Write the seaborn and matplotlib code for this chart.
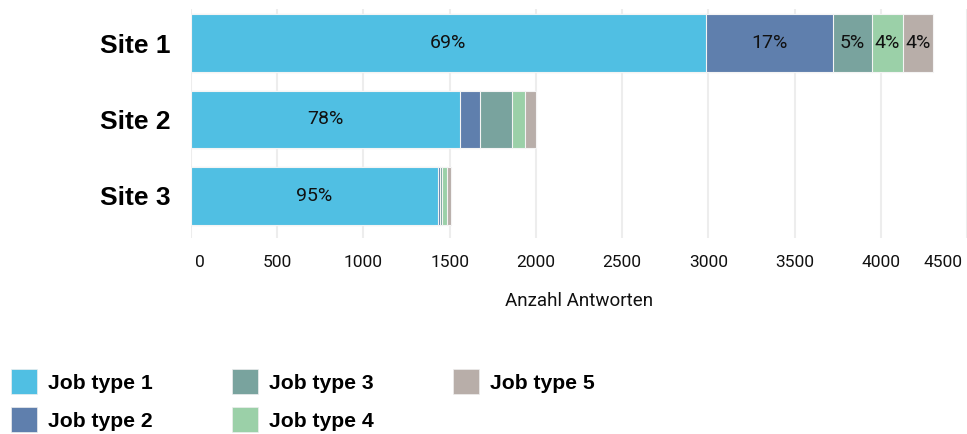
import matplotlib
matplotlib.use("Agg")
import matplotlib.pyplot as plt
import matplotlib.transforms as mtransforms
from matplotlib.patches import Patch
import numpy as np
import pandas as pd
import seaborn as sns

sites = ["Site 1", "Site 2", "Site 3"]
job_types = ["Job type 1", "Job type 2", "Job type 3", "Job type 4", "Job type 5"]
job1 = [2984, 1560, 1433]
job2 = [737, 115, 10]
job3 = [226, 185, 10]
job4 = [182, 75, 30]
job5 = [176, 65, 22]
colors = ["#50BFE3", "#5F7FAD", "#79A39E", "#9BD0A8", "#B8AEA9"]
# which segments carry a percent label, per site
labelled = [[0, 1, 2, 3, 4], [0], [0]]
x_ticks = [0, 500, 1000, 1500, 2000, 2500, 3000, 3500, 4000, 4500]
x_label = "Anzahl Antworten"

sns.set_style("white")
plt.rcParams["font.family"] = ["Liberation Sans", "DejaVu Sans"]
plt.rcParams["text.color"] = "black"

values = np.array([job1, job2, job3, job4, job5], dtype=float)
cum = values.cumsum(axis=0)
totals = cum[-1]

fig = plt.figure(figsize=(9.67, 4.34), dpi=100)
ax = fig.add_axes([191 / 967, 1 - 238 / 434, 1 - 191 / 967, (238 - 8.6) / 434])

# draw cumulative bars from the outermost segment inwards
for i in range(len(job_types) - 1, -1, -1):
    df = pd.DataFrame({"site": sites, "value": cum[i]})
    sns.barplot(data=df, x="value", y="site", orient="h", color=colors[i],
                width=0.75, edgecolor="#F4F4F4", linewidth=0.8, saturation=1,
                ax=ax, zorder=3)

for s, jobs in enumerate(labelled):
    for i in jobs:
        start = cum[i - 1][s] if i > 0 else 0
        centre = start + values[i][s] / 2
        pct = round(values[i][s] / totals[s] * 100)
        ax.text(centre, s, f"{pct}%", ha="center", va="center",
                fontsize=14, family=["Roboto", "DejaVu Sans"], color="#111111",
                zorder=4)

ax.set_xlim(0, 4500)
ax.set_ylim(2.55, -0.45)
ax.set_xticks(x_ticks)
ax.set_xticklabels([str(t) for t in x_ticks], family=["Roboto", "DejaVu Sans"], fontsize=12.5)
ax.tick_params(axis="x", length=0, pad=12, colors="#111111")
ax.tick_params(axis="y", length=0, pad=15, colors="black")
for lab in ax.get_yticklabels():
    lab.set_fontsize(19)
    lab.set_fontweight("bold")

tl = ax.get_xticklabels()
tl[0].set_ha("left")
tl[0].set_transform(tl[0].get_transform() + mtransforms.ScaledTranslation(4 / 100, 0, fig.dpi_scale_trans))
tl[-1].set_ha("right")
tl[-1].set_transform(tl[-1].get_transform() + mtransforms.ScaledTranslation(-4 / 100, 0, fig.dpi_scale_trans))

ax.set_xlabel(x_label, fontsize=13.5, family=["Roboto", "DejaVu Sans"], labelpad=16, color="#111111")
ax.set_ylabel("")
ax.grid(axis="x", color="#EDEDED", linewidth=1.5, zorder=0)
ax.grid(axis="y", visible=False)
ax.set_axisbelow(True)
for sp in ax.spines.values():
    sp.set_visible(False)

handles = [Patch(facecolor=c, edgecolor="#EEEEEE", linewidth=0.5) for c in colors]
fig.legend(handles, job_types, loc="upper left", bbox_to_anchor=(11 / 967, 1 - 369 / 434),
           ncol=3, frameon=False, borderpad=0, borderaxespad=0,
           prop={"weight": "bold", "size": 15.2},
           handlelength=1.25, handleheight=1.45, handletextpad=0.5,
           columnspacing=3.75, labelspacing=0.62, labelcolor="black")

fig.savefig("out.png", dpi=100)
